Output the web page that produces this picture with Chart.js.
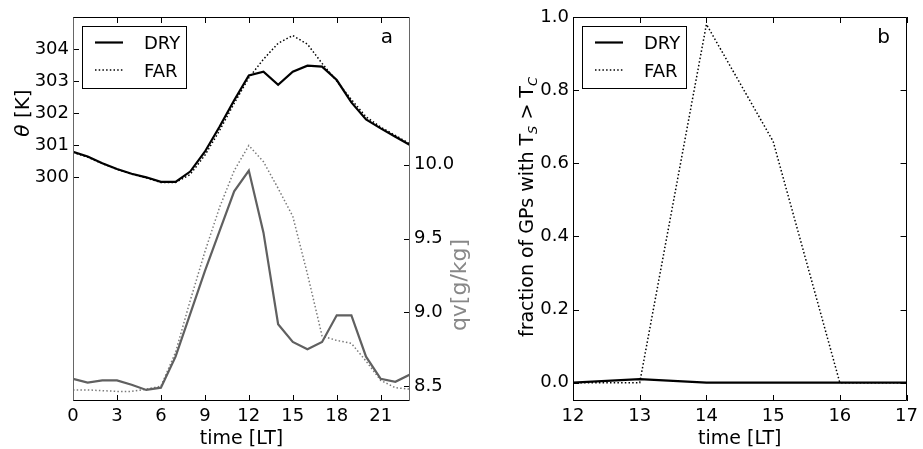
<!DOCTYPE html>
<html>
<head>
<meta charset="utf-8">
<script src="https://cdn.jsdelivr.net/npm/chart.js@4.4.1/dist/chart.umd.min.js"></script>
<style>
  body { margin: 0; background: #fff; width: 923px; height: 449px; overflow: hidden; }
  .panel { position: absolute; top: 0; height: 449px; }
</style>
</head>
<body>
<div class="panel" style="left:0;width:480px"><canvas id="chartA"></canvas></div>
<div class="panel" style="left:460px;width:463px"><canvas id="chartB"></canvas></div>
<script>
// panel a: hourly means
const hours = [0, 1, 2, 3, 4, 5, 6, 7, 8, 9, 10, 11, 12, 13, 14, 15, 16, 17, 18, 19, 20, 21, 22, 23];
const thetaDry = [300.79, 300.64, 300.43, 300.25, 300.10, 299.99, 299.85, 299.85, 300.17, 300.79, 301.57, 302.40,
  303.17, 303.29, 302.88, 303.29, 303.48, 303.45, 303.03, 302.33, 301.80, 301.52, 301.26, 301.00];
const thetaFar = [300.77, 300.62, 300.42, 300.24, 300.09, 299.97, 299.83, 299.83, 300.08, 300.68, 301.45, 302.30,
  303.10, 303.68, 304.18, 304.42, 304.15, 303.55, 303.00, 302.42, 301.88, 301.56, 301.30, 301.03];
const qvDry = [8.55, 8.525, 8.54, 8.54, 8.51, 8.475, 8.49, 8.70, 8.99, 9.28, 9.55, 9.82,
  9.96, 9.54, 8.92, 8.80, 8.75, 8.80, 8.98, 8.98, 8.70, 8.55, 8.53, 8.58];
const qvFar = [8.475, 8.475, 8.47, 8.465, 8.465, 8.48, 8.50, 8.73, 9.08, 9.41, 9.71, 9.96,
  10.13, 10.02, 9.84, 9.65, 9.26, 8.84, 8.81, 8.79, 8.67, 8.54, 8.49, 8.48];
const hourTicks = [0, 3, 6, 9, 12, 15, 18, 21];
const thetaTicks = [300, 301, 302, 303, 304];
const qvTicks = [8.5, 9.0, 9.5, 10.0];

// panel b: fraction of grid points
const fracHours = [12, 13, 14, 15, 16, 17];
const fracDry = [0, 0.01, 0, 0, 0, 0];
const fracFar = [0, 0, 0.98, 0.66, 0, 0];
const fracHourTicks = [12, 13, 14, 15, 16, 17];
const fracTicks = [0, 0.2, 0.4, 0.6, 0.8, 1.0];

const FONT = "DejaVu Sans";
Chart.defaults.font.family = FONT;
Chart.defaults.color = "#000";
Chart.defaults.maintainAspectRatio = false;
Chart.defaults.animation = false;

const pts = (xs, ys) => xs.map((x, i) => ({ x: x, y: ys[i] }));
const setTicks = (vals) => (s) => { s.ticks = vals.map((v) => ({ value: v })); };
const DOT = [1.5, 2.2];

// text made of parts, centred on (cx, cy), baseline through cx when rotated
function drawRich(ctx, parts, cx, cy, angle, color) {
  ctx.save();
  ctx.translate(cx, cy);
  ctx.rotate(angle);
  let total = 0;
  parts.forEach((p) => { ctx.font = p.font; p.w = ctx.measureText(p.t).width; total += p.w; });
  let x = -total / 2;
  ctx.fillStyle = color;
  ctx.textBaseline = "alphabetic";
  ctx.textAlign = "left";
  parts.forEach((p) => { ctx.font = p.font; ctx.fillText(p.t, x, p.dy || 0); x += p.w; });
  ctx.restore();
}

// frame, inward ticks, legend box, labels
const decor = {
  id: "decor",
  afterDraw(chart, args, o) {
    const ctx = chart.ctx;
    const a = chart.chartArea;
    ctx.save();
    ctx.lineWidth = 1;
    ctx.strokeStyle = "#000";
    o.ticks.forEach((t) => {
      const s = chart.scales[t.scale];
      s.ticks.forEach((tk) => {
        const p = Math.round(s.getPixelForValue(tk.value)) + 0.5;
        ctx.beginPath();
        if (t.side === "bottom") { ctx.moveTo(p, a.bottom); ctx.lineTo(p, a.bottom - 6); }
        if (t.side === "top") { ctx.moveTo(p, a.top); ctx.lineTo(p, a.top + 6); }
        if (t.side === "left") { ctx.moveTo(a.left, p); ctx.lineTo(a.left + 6, p); }
        if (t.side === "right") { ctx.moveTo(a.right, p); ctx.lineTo(a.right - 6, p); }
        ctx.stroke();
      });
    });
    const L = Math.round(a.left) + 0.5, R = Math.round(a.right) - 0.5;
    const T = Math.round(a.top) + 0.5, B = Math.round(a.bottom) - 0.5;
    ctx.strokeStyle = "#000";
    ctx.beginPath(); ctx.moveTo(L, T); ctx.lineTo(R, T); ctx.moveTo(L, B); ctx.lineTo(R, B); ctx.stroke();
    ctx.strokeStyle = o.sideColor;
    ctx.beginPath(); ctx.moveTo(L, T); ctx.lineTo(L, B); ctx.moveTo(R, T); ctx.lineTo(R, B); ctx.stroke();

    // legend
    const lx = a.left + 10;
    ctx.fillStyle = "#fff";
    ctx.fillRect(lx - 0.5, 26.5, 104, 62);
    ctx.strokeStyle = "#000";
    ctx.strokeRect(lx - 0.5, 26.5, 104, 62);
    ctx.lineWidth = 2.2;
    ctx.beginPath(); ctx.moveTo(lx + 12, 42.5); ctx.lineTo(lx + 40, 42.5); ctx.stroke();
    ctx.lineWidth = 1.5;
    ctx.setLineDash(DOT);
    ctx.beginPath(); ctx.moveTo(lx + 12, 70); ctx.lineTo(lx + 40, 70); ctx.stroke();
    ctx.setLineDash([]);
    ctx.fillStyle = "#000";
    ctx.font = "18px " + FONT;
    ctx.textBaseline = "alphabetic";
    ctx.fillText("DRY", lx + 61, 49);
    ctx.fillText("FAR", lx + 61, 76.5);

    // panel letter
    ctx.font = "20px " + FONT;
    ctx.textAlign = "center";
    ctx.fillText(o.letter, a.right - 23, 43);
    ctx.restore();

    drawRich(ctx, [{ t: "time [LT]", font: "19px " + FONT }], (a.left + a.right) / 2, 444, 0, "#000");
    o.labels.forEach((l) => drawRich(ctx, l.parts, l.cx, l.cy, -Math.PI / 2, l.color));
  },
};

const axisX = (min, max, vals) => ({
  type: "linear", min: min, max: max,
  afterBuildTicks: setTicks(vals),
  afterFit: (s) => { s.height = 48; },
  grid: { display: false, drawTicks: false, tickLength: 0 },
  border: { display: false },
  ticks: { font: { size: 18 }, color: "#000", padding: 5, maxRotation: 0, autoSkip: false },
});
const axisY = (pos, min, max, vals, w, fmt) => ({
  position: pos, min: min, max: max,
  afterBuildTicks: setTicks(vals),
  afterFit: (s) => { s.width = w; },
  grid: { display: false, drawTicks: false, tickLength: 0 },
  border: { display: false },
  ticks: { font: { size: 18 }, color: "#000", padding: 4, autoSkip: false, callback: fmt },
});

new Chart(document.getElementById("chartA"), {
  type: "line",
  data: {
    datasets: [
      { label: "DRY", data: pts(hours, qvDry), yAxisID: "y2", borderColor: "#606060", borderWidth: 2.2 },
      { label: "FAR", data: pts(hours, qvFar), yAxisID: "y2", borderColor: "#7a7a7a", borderWidth: 1.5, borderDash: DOT },
      { label: "DRY", data: pts(hours, thetaDry), yAxisID: "y", borderColor: "#000", borderWidth: 2.2 },
      { label: "FAR", data: pts(hours, thetaFar), yAxisID: "y", borderColor: "#000", borderWidth: 1.5, borderDash: DOT },
    ],
  },
  options: {
    responsive: true,
    devicePixelRatio: 1,
    layout: { padding: { top: 17, left: 0, right: 0, bottom: 0 } },
    elements: { point: { radius: 0 }, line: { tension: 0, fill: false } },
    scales: {
      x: axisX(0, 23, hourTicks),
      y: axisY("left", 293, 305, thetaTicks, 73, (v) => String(v)),
      y2: axisY("right", 8.4, 11.0, qvTicks, 70, (v) => v.toFixed(1)),
    },
    plugins: {
      legend: { display: false },
      tooltip: { enabled: false },
      decor: {
        letter: "a",
        sideColor: "#666",
        ticks: [
          { scale: "x", side: "bottom" }, { scale: "x", side: "top" },
          { scale: "y", side: "left" }, { scale: "y2", side: "right" },
        ],
        labels: [
          { cx: 29, cy: 113, color: "#000", parts: [
            { t: "θ", font: "italic 20px " + FONT }, { t: " [K]", font: "20px " + FONT }] },
          { cx: 466, cy: 285, color: "#888", parts: [{ t: "qv[g/kg]", font: "22px " + FONT }] },
        ],
      },
    },
  },
  plugins: [decor],
});

new Chart(document.getElementById("chartB"), {
  type: "line",
  data: {
    datasets: [
      { label: "DRY", data: pts(fracHours, fracDry), borderColor: "#000", borderWidth: 2.2 },
      { label: "FAR", data: pts(fracHours, fracFar), borderColor: "#000", borderWidth: 1.5, borderDash: DOT },
    ],
  },
  options: {
    responsive: true,
    devicePixelRatio: 1,
    layout: { padding: { top: 17, left: 0, right: 13, bottom: 0 } },
    elements: { point: { radius: 0 }, line: { tension: 0, fill: false } },
    scales: {
      x: axisX(12, 17, fracHourTicks),
      y: axisY("left", -0.05, 1.0, fracTicks, 113, (v) => v.toFixed(1)),
    },
    plugins: {
      legend: { display: false },
      tooltip: { enabled: false },
      decor: {
        letter: "b",
        sideColor: "#000",
        ticks: [
          { scale: "x", side: "bottom" }, { scale: "x", side: "top" },
          { scale: "y", side: "left" }, { scale: "y", side: "right" },
        ],
        labels: [
          { cx: 73, cy: 207, color: "#000", parts: [
            { t: "fraction of GPs with T", font: "19px " + FONT },
            { t: "S", font: "italic 13px " + FONT, dy: 4 },
            { t: " > T", font: "19px " + FONT },
            { t: "C", font: "italic 13px " + FONT, dy: 4 }] },
        ],
      },
    },
  },
  plugins: [decor],
});
</script>
</body>
</html>
